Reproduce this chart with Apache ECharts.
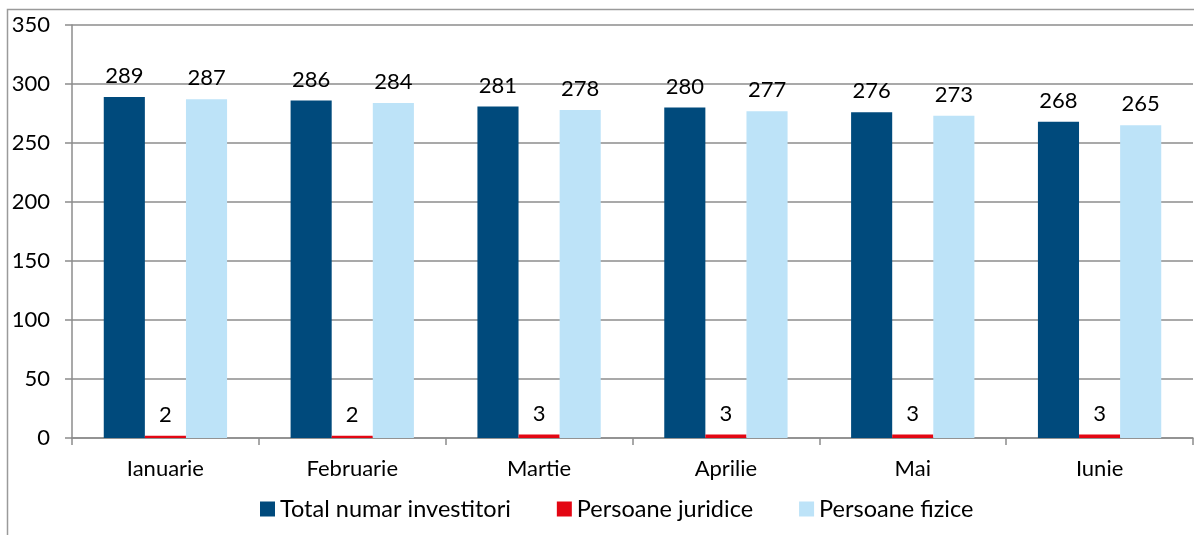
<!DOCTYPE html>
<html>
<head>
<meta charset="utf-8">
<script src="https://cdn.jsdelivr.net/npm/echarts@6/dist/echarts.min.js"></script>
<style>
  html, body { margin: 0; padding: 0; background: #fff; }
  #chart { width: 1194px; height: 535px; }
</style>
</head>
<body>
<div id="chart"></div>
<script>
var months = ['Ianuarie', 'Februarie', 'Martie', 'Aprilie', 'Mai', 'Iunie'];
var totalInvestitori = [289, 286, 281, 280, 276, 268];
var persoaneJuridice = [2, 2, 3, 3, 3, 3];
var persoaneFizice = [287, 284, 278, 277, 273, 265];

var font = 'Lato, "Open Sans", sans-serif';
var fontSize = 22;
var gridColor = '#8c8c8c';

function barSeries(name, data, color) {
    return {
        name: name,
        type: 'bar',
        data: data,
        barGap: '0%',
        barCategoryGap: '34%',
        itemStyle: { color: color },
        label: {
            show: true,
            position: 'top',
            distance: 10,
            color: '#000',
            fontSize: fontSize,
            fontFamily: font
        }
    };
}

var chart = echarts.init(document.getElementById('chart'));
chart.setOption({
    animation: false,
    textStyle: { fontFamily: font },
    graphic: [{
        type: 'rect',
        shape: { x: 7.5, y: 9.5, width: 1300, height: 700 },
        style: { fill: 'none', stroke: '#9a9a9a', lineWidth: 1.5 },
        silent: true
    }],
    grid: { left: 72, right: 1, top: 25, bottom: 97 },
    legend: {
        left: 255,
        top: 492,
        itemWidth: 15,
        itemHeight: 15,
        itemGap: 46,
        icon: 'rect',
        textStyle: { fontSize: 23.5, color: '#000', fontFamily: font },
        data: ['Total numar investitori', 'Persoane juridice', 'Persoane fizice']
    },
    xAxis: {
        type: 'category',
        data: months,
        axisLine: { lineStyle: { color: gridColor, width: 1.5 } },
        axisTick: { show: true, interval: 0, length: 7, lineStyle: { color: gridColor, width: 1.5 } },
        axisLabel: { color: '#000', fontSize: fontSize, margin: 20, fontFamily: font }
    },
    yAxis: {
        type: 'value',
        min: 0,
        max: 350,
        interval: 50,
        axisLine: { show: true, lineStyle: { color: gridColor, width: 1.5 } },
        axisTick: { show: true, length: 7, lineStyle: { color: gridColor, width: 1.5 } },
        axisLabel: { color: '#000', fontSize: fontSize, margin: 22, fontFamily: font },
        splitLine: { lineStyle: { color: gridColor, width: 1.5 } }
    },
    series: [
        barSeries('Total numar investitori', totalInvestitori, '#004a7c'),
        barSeries('Persoane juridice', persoaneJuridice, '#e30613'),
        barSeries('Persoane fizice', persoaneFizice, '#bde3f8')
    ]
});
</script>
</body>
</html>
